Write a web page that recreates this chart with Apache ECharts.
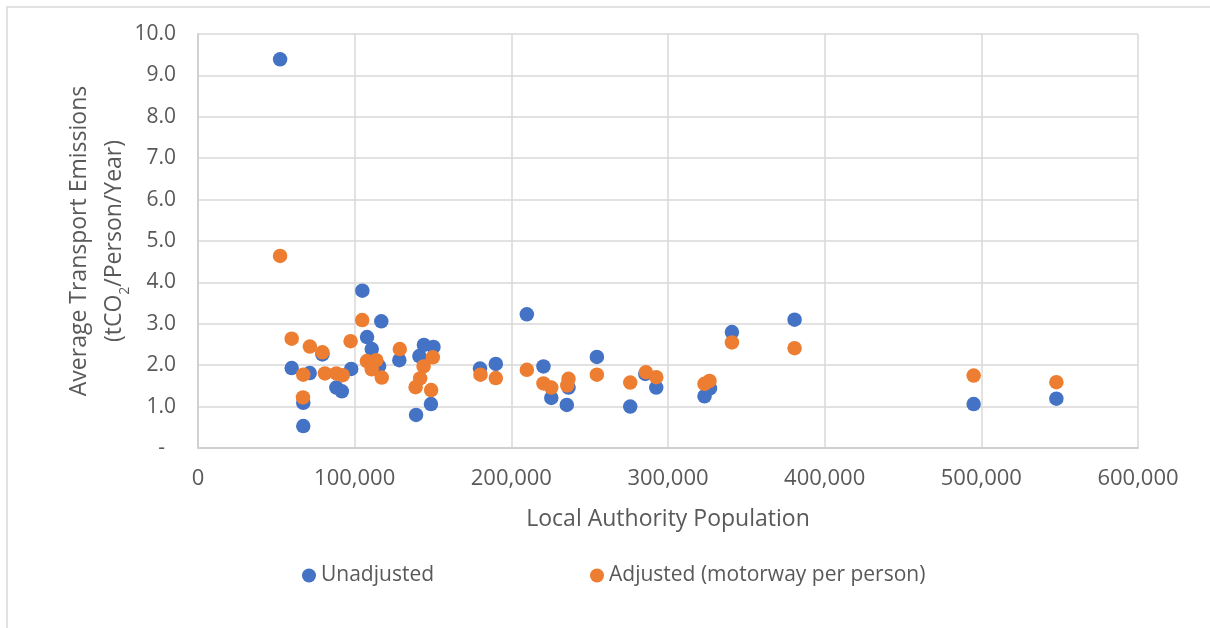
<!DOCTYPE html>
<html>
<head>
<meta charset="utf-8">
<script src="https://cdn.jsdelivr.net/npm/echarts@6/dist/echarts.min.js"></script>
<style>
  html, body { margin: 0; padding: 0; background: #ffffff; }
  #chart { width: 1210px; height: 628px; }
</style>
</head>
<body>
<div id="chart"></div>
<script>
// Local authority population vs. average transport emissions (tCO2 per person per year)
const unadjustedPop = [52400, 59800, 67200, 67200, 71300, 79400, 88300, 91800, 97800, 104900,
  107900, 110900, 115600, 117000, 128500, 139200, 141300, 144200, 148700, 150300,
  180000, 190100, 209900, 220500, 225500, 235400, 236500, 254600, 275900, 285500,
  292500, 323300, 326800, 340800, 380800, 495100, 547900];
const unadjustedEm = [9.39, 1.93, 1.09, 0.53, 1.81, 2.26, 1.46, 1.37, 1.91, 3.80,
  2.68, 2.39, 1.98, 3.06, 2.12, 0.80, 2.22, 2.49, 1.06, 2.44,
  1.92, 2.03, 3.23, 1.97, 1.21, 1.04, 1.46, 2.20, 1.00, 1.79,
  1.46, 1.25, 1.44, 2.80, 3.10, 1.06, 1.19];

const adjustedPop = [52400, 59800, 67200, 67000, 71400, 79400, 81000, 88300, 92400, 97400,
  104800, 107800, 110900, 113800, 117300, 128800, 138900, 141800, 144000, 148800,
  149900, 180300, 190100, 209900, 220500, 225500, 235700, 236500, 254600, 275900,
  285900, 292500, 323300, 326500, 340800, 380800, 495100, 547900];
const adjustedEm = [4.64, 2.64, 1.77, 1.22, 2.45, 2.31, 1.80, 1.80, 1.76, 2.58,
  3.09, 2.10, 1.90, 2.12, 1.70, 2.39, 1.47, 1.68, 1.97, 1.40,
  2.19, 1.77, 1.69, 1.89, 1.56, 1.46, 1.51, 1.67, 1.77, 1.58,
  1.83, 1.71, 1.55, 1.62, 2.55, 2.41, 1.75, 1.59];

const seriesNames = ['Unadjusted', 'Adjusted (motorway per person)'];
const seriesColors = ['#4472C4', '#ED7D31'];

const xTitle = 'Local Authority Population';
const yTitleLine1 = 'Average Transport Emissions';
const yTitleLine2 = '(tCO{sub|2}/Person/Year)';

const textColor = '#595959';
const fontFamily = '"Open Sans", "Noto Sans", sans-serif';

function pairs(xs, ys) {
  return xs.map((x, i) => [x, ys[i]]);
}

const chart = echarts.init(document.getElementById('chart'), null, { renderer: 'canvas' });

const legendText = { fontSize: 21, color: textColor, fontFamily: fontFamily };

chart.setOption({
  backgroundColor: '#ffffff',
  animation: false,
  textStyle: { fontFamily: fontFamily, color: textColor },
  graphic: [{
    type: 'rect',
    shape: { x: 7, y: 7, width: 1215, height: 640 },
    style: { fill: 'none', stroke: '#d9d9d9', lineWidth: 1.5 },
    silent: true,
    z: -10
  }],
  grid: { left: 198, top: 34, right: 72, bottom: 180, containLabel: false },
  legend: [
    {
      data: [seriesNames[0]], left: 297, top: 560, padding: 5,
      icon: 'circle', itemWidth: 14, itemHeight: 14, textStyle: legendText
    },
    {
      data: [seriesNames[1]], left: 585, top: 560, padding: 5,
      icon: 'circle', itemWidth: 14, itemHeight: 14, textStyle: legendText
    }
  ],
  xAxis: {
    type: 'value', min: 0, max: 600000, interval: 100000,
    name: xTitle, nameLocation: 'middle', nameGap: 60, nameMoveOverlap: false,
    nameTextStyle: { fontSize: 23, color: textColor, fontFamily: fontFamily },
    axisLine: { show: true, lineStyle: { color: '#d0d0d0', width: 2 } },
    axisTick: { show: false },
    axisLabel: {
      fontSize: 22, color: textColor, margin: 20, fontFamily: fontFamily,
      formatter: v => v === 0 ? '0' : v.toLocaleString('en-US')
    },
    splitLine: { show: true, lineStyle: { color: '#d9d9d9', width: 1.5 } }
  },
  yAxis: {
    type: 'value', min: 0, max: 10, interval: 1,
    name: yTitleLine1 + '\n' + yTitleLine2,
    nameLocation: 'middle', nameRotate: 90, nameGap: 66, nameMoveOverlap: false,
    nameTextStyle: {
      fontSize: 23, color: textColor, fontFamily: fontFamily, lineHeight: 35, align: 'center',
      rich: {
        sub: { fontSize: 14, color: textColor, fontFamily: fontFamily, lineHeight: 20, verticalAlign: 'bottom' }
      }
    },
    axisLine: { show: true, lineStyle: { color: '#d0d0d0', width: 2 } },
    axisTick: { show: false },
    axisLabel: {
      fontSize: 21, color: textColor, margin: 22, fontFamily: fontFamily,
      formatter: v => v === 0 ? '-  ' : v.toFixed(1)
    },
    splitLine: { show: true, lineStyle: { color: '#d9d9d9', width: 1.5 } }
  },
  series: [
    {
      name: seriesNames[0], type: 'scatter', symbol: 'circle', symbolSize: 14.5,
      itemStyle: { color: seriesColors[0], opacity: 1 },
      data: pairs(unadjustedPop, unadjustedEm), z: 2
    },
    {
      name: seriesNames[1], type: 'scatter', symbol: 'circle', symbolSize: 14.5,
      itemStyle: { color: seriesColors[1], opacity: 1 },
      data: pairs(adjustedPop, adjustedEm), z: 3
    }
  ]
});
</script>
</body>
</html>
